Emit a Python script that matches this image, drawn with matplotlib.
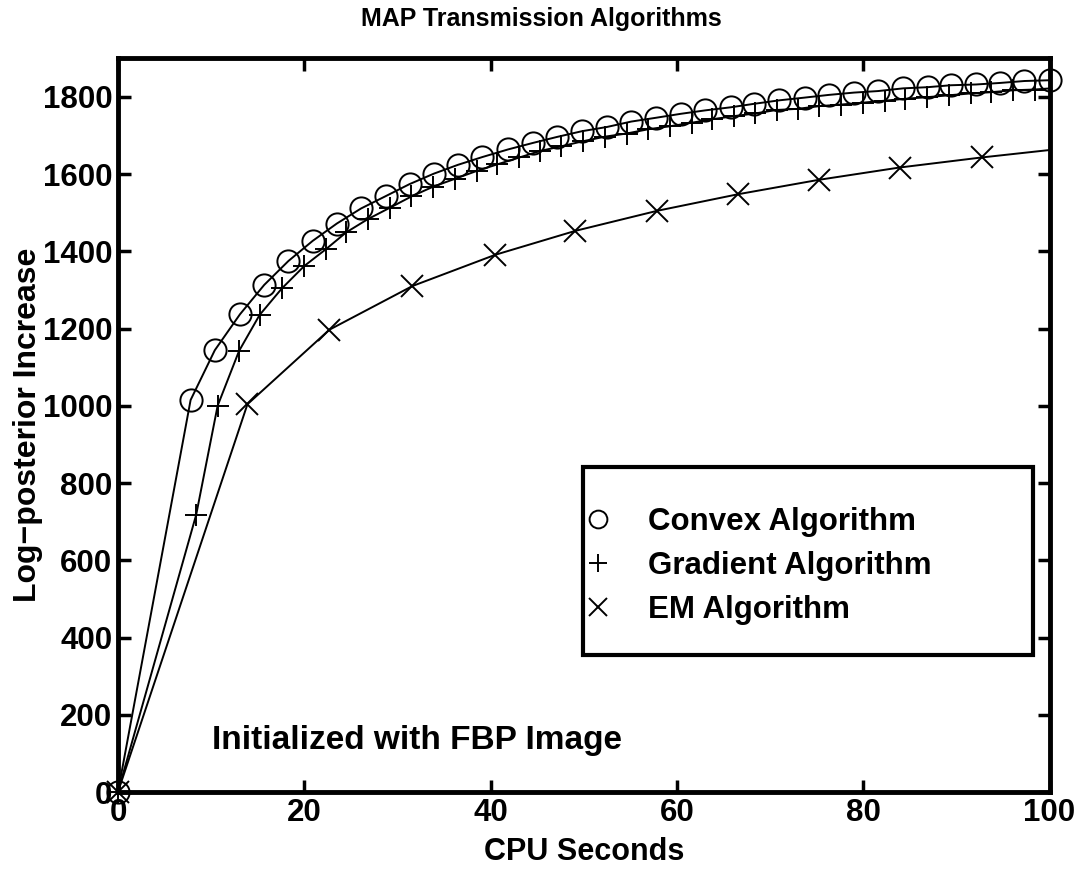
import numpy as np
import matplotlib
matplotlib.use("Agg")
import matplotlib.pyplot as plt
from matplotlib.patches import Rectangle

plt.rcParams['font.family'] = ['Liberation Sans', 'DejaVu Sans']
plt.rcParams['font.weight'] = 'bold'

# convex algorithm (circles)
convex_t = [0, 7.8, 10.4, 13.1, 15.7, 18.3, 20.9, 23.5, 26.1, 28.75, 31.3,
            33.9, 36.5, 39.1, 41.9, 44.6, 47.1, 49.8, 52.5, 55.1, 57.8,
            60.4, 63.05, 65.8, 68.3, 71.0, 73.7, 76.3, 79.0, 81.6, 84.3,
            86.9, 89.4, 92.1, 94.7, 97.3, 100.0]
convex_y = [0, 1015, 1144, 1237, 1313, 1375, 1427, 1472, 1511, 1543, 1574,
            1601, 1624, 1644, 1664, 1681, 1696, 1711, 1722, 1736, 1746,
            1756, 1765, 1773, 1782, 1791, 1798, 1805, 1811, 1815, 1822,
            1825, 1830, 1832, 1836, 1841, 1843]

# gradient algorithm (plus)
grad_t = [0, 8.4, 10.7, 13.0, 15.2, 17.6, 20.0, 22.3, 24.5, 26.8, 29.2,
          31.5, 33.8, 36.2, 38.5, 40.7, 43.1, 45.35, 47.6, 49.9, 52.3,
          54.6, 56.9, 59.3, 61.6, 63.8, 66.1, 68.4, 70.7, 73.0, 75.3,
          77.6, 80.0, 82.3, 84.5, 86.8, 89.2, 91.6, 93.7, 96.1, 98.4, 100.7]
grad_y = [0, 718, 1000, 1142, 1235, 1304, 1362, 1405, 1449, 1483, 1513,
          1542, 1567, 1588, 1608, 1625, 1643, 1660, 1672, 1685, 1697,
          1705, 1716, 1724, 1733, 1742, 1750, 1757, 1766, 1769, 1776,
          1780, 1785, 1790, 1795, 1799, 1804, 1809, 1812, 1817, 1819, 1823]

# EM algorithm (x)
em_t = [0, 13.9, 22.7, 31.6, 40.5, 49.1, 57.9, 66.6, 75.2, 83.9, 92.7, 101.4]
em_y = [0, 1004, 1197, 1310, 1391, 1453, 1505, 1548, 1585, 1617, 1643, 1666]

xticks = [0, 20, 40, 60, 80, 100]
yticks = [0, 200, 400, 600, 800, 1000, 1200, 1400, 1600, 1800]

fig = plt.figure(figsize=(10.82, 8.69), dpi=100)
ax = fig.add_axes([0.109, 0.0886, 0.861, 0.8444])

series = [(convex_t, convex_y, 'o', 'Convex Algorithm'),
          (grad_t, grad_y, '+', 'Gradient Algorithm'),
          (em_t, em_y, 'x', 'EM Algorithm')]
handles = []
for t, y, m, lab in series:
    t = np.array(t)
    y = np.array(y)
    ax.plot(t, y, '-', color='k', lw=1.4)
    keep = t <= 100
    h, = ax.plot(t[keep], y[keep], m, color='k', mfc='none', ms=16,
                 mew=1.4, clip_on=False, label=lab)
    handles.append(h)

ax.set_xlim(0, 100)
ax.set_ylim(0, 1900)
ax.set_xticks(xticks)
ax.set_yticks(yticks)
ax.tick_params(direction='in', length=9, width=2.5, top=True, right=True,
               labelsize=22.5, pad=4)
for s in ax.spines.values():
    s.set_linewidth(3.5)

fig.text(0.5, 1 - 19 / 869, 'MAP Transmission Algorithms', fontsize=18,
         fontweight='bold', ha='center', va='center')
ax.set_xlabel('CPU Seconds', fontsize=22, fontweight='bold', labelpad=7)
ax.set_ylabel('Log\u2212posterior Increase', fontsize=23, fontweight='bold', labelpad=0)

ax.text(10.1, 133, 'Initialized with FBP Image', fontsize=24, fontweight='bold',
        va='center', ha='left')

# legend box (drawn separately to get the MATLAB-style spacing)
ax.add_patch(Rectangle((0.4989, 0.1866), 0.4829, 0.2562, transform=ax.transAxes,
                       fill=False, edgecolor='k', lw=3, zorder=5))
leg = ax.legend(handles=handles, loc='upper left', bbox_to_anchor=(0.505, 0.388),
                fontsize=22.5, frameon=False, borderpad=0,
                handlelength=0.6, handletextpad=1.3, labelspacing=0.45,
                markerscale=0.8, borderaxespad=0)
for lt in leg.get_texts():
    lt.set_fontweight('bold')

fig.savefig('out.png', dpi=100)
